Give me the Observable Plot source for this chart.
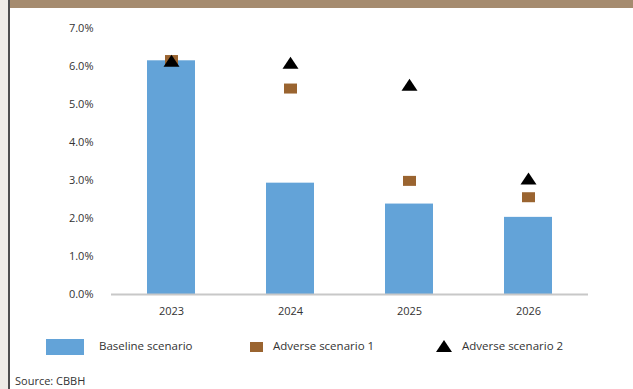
<!DOCTYPE html>
<html>
<head>
<meta charset="utf-8">
<script src="https://cdn.jsdelivr.net/npm/d3@7"></script>
<script src="https://cdn.jsdelivr.net/npm/@observablehq/plot@0.6"></script>
<style>
  html, body { margin: 0; padding: 0; background: #fff; }
  #page { position: relative; width: 633px; height: 389px; overflow: hidden; background: #fff; font-family: "Open Sans", sans-serif; color: #333; }
  #strip { position: absolute; left: 0; top: 0; width: 8px; height: 389px; background: #eeebe6; }
  #vline { position: absolute; left: 8px; top: 0; width: 2px; height: 389px; background: #4d4d4d; }
  #band { position: absolute; left: 10px; top: 0; width: 623px; height: 8px; background: #a58b6f; }
  #chart { position: absolute; left: 0; top: 0; }
  .leg { position: absolute; font-size: 11.5px; line-height: 14px; color: #333; white-space: nowrap; }
  .sw { position: absolute; line-height: 0; }
  .sw svg { display: block; }
  #source { position: absolute; left: 15px; top: 374px; font-size: 11px; line-height: 14px; color: #333; white-space: nowrap; }
</style>
</head>
<body>
<div id="page">
  <div id="strip"></div>
  <div id="vline"></div>
  <div id="band"></div>
  <div id="chart"></div>
  <div id="legend"></div>
  <div id="source">Source: CBBH</div>
</div>
<script>
const years = ["2023", "2024", "2025", "2026"];
const baseline = [6.15, 2.93, 2.38, 2.03];
const adverse1 = [6.17, 5.42, 2.99, 2.56];
const adverse2 = [6.15, 6.10, 5.52, 3.05];
const yTicks = [0, 1, 2, 3, 4, 5, 6, 7];
const seriesNames = ["Baseline scenario", "Adverse scenario 1", "Adverse scenario 2"];
const colors = { bar: "#63a3d8", square: "#9a6430", triangle: "#000000" };

const rectSymbol = {
  draw(ctx) {
    ctx.moveTo(-6.5, -5); ctx.lineTo(6.5, -5); ctx.lineTo(6.5, 5); ctx.lineTo(-6.5, 5); ctx.closePath();
  }
};
const triSymbol = {
  draw(ctx) {
    ctx.moveTo(0, -6); ctx.lineTo(8, 6); ctx.lineTo(-8, 6); ctx.closePath();
  }
};

const base = years.map((y, i) => ({ year: y, value: baseline[i] }));
const adv1 = years.map((y, i) => ({ year: y, value: adverse1[i] }));
const adv2 = years.map((y, i) => ({ year: y, value: adverse2[i] }));

const chart = Plot.plot({
  width: 633,
  height: 320,
  marginTop: 28,
  marginBottom: 26,
  marginLeft: 111,
  marginRight: 45,
  style: { fontFamily: "Open Sans, sans-serif", fontSize: "11px", color: "#333", background: "transparent" },
  x: { domain: years, paddingInner: 0.6, paddingOuter: 0.3, label: null },
  y: { domain: [0, 7], label: null },
  marks: [
    Plot.barY(base, { x: "year", y: "value", fill: colors.bar }),
    Plot.ruleY([0], { stroke: "#c8c8c8", strokeWidth: 2 }),
    Plot.dot(adv1, { x: "year", y: "value", symbol: rectSymbol, fill: colors.square, stroke: "none", r: 5 }),
    Plot.dot(adv2, { x: "year", y: "value", symbol: triSymbol, fill: colors.triangle, stroke: "none", r: 5 }),
    Plot.axisY({ ticks: yTicks, tickSize: 0, tickPadding: 18, tickFormat: d => d.toFixed(1) + "%", fill: "#333" }),
    Plot.axisX({ tickSize: 0, tickPadding: 13, fill: "#333" })
  ]
});
document.getElementById("chart").appendChild(chart);

// legend
const legend = document.getElementById("legend");
const items = [
  { name: seriesNames[0], sw: `<svg width="38" height="16"><rect width="38" height="16" fill="${colors.bar}"/></svg>`, swx: 46, swy: 339, tx: 99 },
  { name: seriesNames[1], sw: `<svg width="13" height="10"><rect width="13" height="10" fill="${colors.square}"/></svg>`, swx: 250, swy: 342, tx: 273 },
  { name: seriesNames[2], sw: `<svg width="16" height="12"><path d="M8,0L16,12L0,12Z" fill="${colors.triangle}"/></svg>`, swx: 436, swy: 340, tx: 462 }
];
for (const it of items) {
  const s = document.createElement("div");
  s.className = "sw";
  s.style.left = it.swx + "px";
  s.style.top = it.swy + "px";
  s.innerHTML = it.sw;
  legend.appendChild(s);
  const t = document.createElement("div");
  t.className = "leg";
  t.style.left = it.tx + "px";
  t.style.top = "339px";
  t.textContent = it.name;
  legend.appendChild(t);
}
</script>
</body>
</html>
